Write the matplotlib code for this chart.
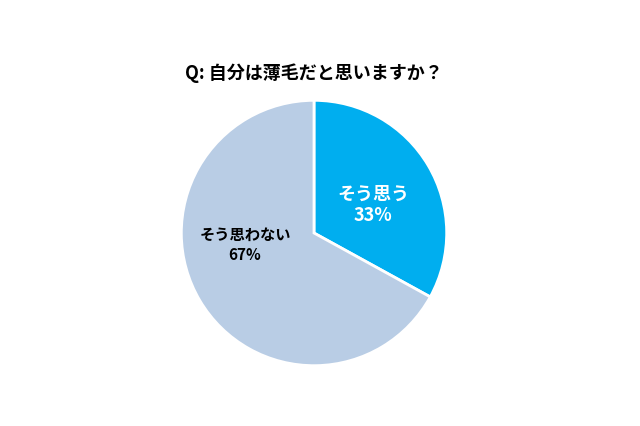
import matplotlib.pyplot as plt

plt.rcParams['font.family'] = ['Noto Sans CJK JP', 'DejaVu Sans']

labels = ['そう思う', 'そう思わない']
values = [33, 67]
colors = ['#00AEEF', '#B9CDE5']

fig = plt.figure(figsize=(6.4, 4.26), dpi=100)
ax = fig.add_axes([(314 - 134) / 640, (426 - 233 - 134) / 426, 268 / 640, 268 / 426])
ax.pie(values, colors=colors, startangle=90, counterclock=False,
       wedgeprops=dict(edgecolor='white', linewidth=2))
ax.set_aspect('equal')
ax.set_xlim(-1.01, 1.01)
ax.set_ylim(-1.01, 1.01)

fig.text(373 / 640, 1 - 205 / 426, f'{labels[0]}\n{values[0]}%', ha='center', va='center',
         color='white', fontsize=13, fontweight='bold', linespacing=1.2)
fig.text(245 / 640, 1 - 245 / 426, f'{labels[1]}\n{values[1]}%', ha='center', va='center',
         color='black', fontsize=11, fontweight='bold', linespacing=1.3)
fig.text(314 / 640, 1 - 73 / 426, 'Q: 自分は薄毛だと思いますか？', ha='center', va='center',
         fontsize=13, fontweight='bold')

fig.savefig('out.png', dpi=100)
